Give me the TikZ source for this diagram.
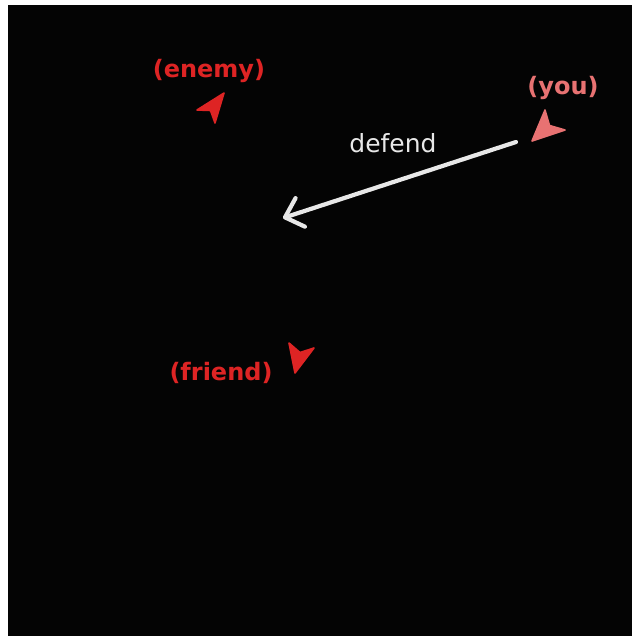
\documentclass[tikz,border=0pt]{standalone}
\usepackage{fontspec}
\setmainfont{DejaVu Sans}
\usepackage{tikz}
\usetikzlibrary{arrows.meta, positioning, calc}

\definecolor{bgblack}{RGB}{4,4,4}
\definecolor{markred}{RGB}{222,36,36}
\definecolor{youpink}{RGB}{232,114,114}
\definecolor{chalk}{RGB}{232,232,232}

\begin{document}
\begin{tikzpicture}[x=1pt, y=-1pt,
    tag/.style={font=\fontsize{24}{28}\selectfont\bfseries, inner sep=0pt},
    marker/.style={line join=round, line width=1.6pt},
    arrow/.style={-{Straight Barb[length=16pt, width=30pt, line cap=round, line join=round]}, line width=4.2pt, line cap=round, draw=chalk},
]
  \useasboundingbox (0,0) rectangle (638,642);
  \fill[bgblack] (8,5) rectangle (632,636);

  % labels
  \node[tag, text=markred] (enemy) at (209,71) {(enemy)};
  \node[tag, text=youpink] (you) at (563,88) {(you)};
  \node[tag, text=markred] (friend) at (221,373) {(friend)};

  % heading markers
  \filldraw[marker, markred] (224,93) -- (197,110) -- (210.5,110.5) -- (215,123) -- cycle;
  \filldraw[marker, youpink] (532,141) -- (545,110) -- (549.5,125.5) -- (565,130) -- cycle;
  \filldraw[marker, markred] (295,373) -- (289,343) -- (300,352.5) -- (314,348) -- cycle;

  % defend order
  \coordinate (start) at (516,142);
  \coordinate (target) at (283,218);
  \draw[arrow] (start) -- (target);
  \node[font=\fontsize{25}{29}\selectfont, text=chalk, inner sep=0pt] (defend) at (393,143) {defend};
\end{tikzpicture}
\end{document}
